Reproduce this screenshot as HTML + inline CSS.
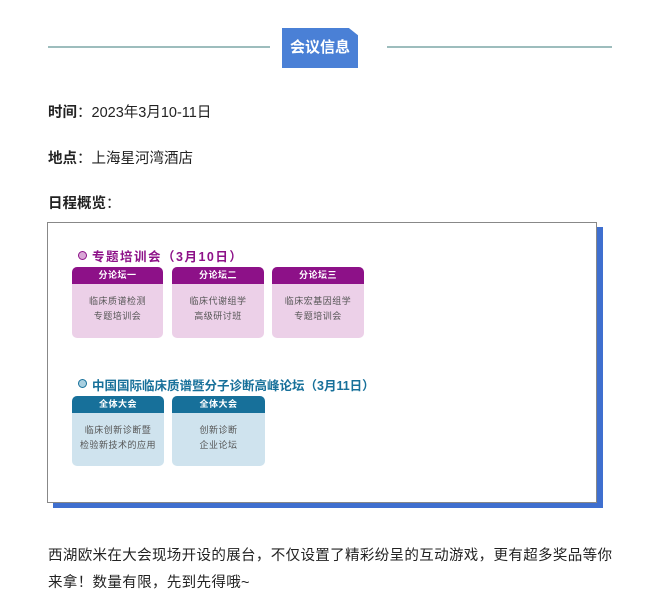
<!DOCTYPE html>
<html><head><meta charset="utf-8"><style>
body{margin:0;width:660px;height:615px;background:#fff;position:relative;font-family:"Liberation Sans","Noto Sans CJK SC",sans-serif;color:#222;overflow:hidden}
.a{position:absolute}
.line{position:absolute;height:2px;background:#9dbdbd;top:46px}
.badge{left:282px;top:28px;width:76px;height:40px;background:#4a80d6;color:#fff;font-weight:bold;font-size:15px;line-height:40px;text-align:center;clip-path:polygon(0 0,88% 0,100% 18%,100% 100%,0 100%)}
.t{font-size:14.5px;left:48px}
.t b{font-weight:bold}
.frame{left:47px;top:222px;width:548px;height:279px;border:1px solid #888;background:#fff;box-shadow:6px 5px 0 #3f6fcf}
.ttl{font-size:12.5px;font-weight:bold}
.dot{width:7px;height:7px;border-radius:50%;border:1.5px solid}
.box{border-radius:5px;overflow:hidden;text-align:center;font-size:9px;line-height:15px;letter-spacing:0.5px}
.box .h{color:#fff;font-weight:bold;height:17px;line-height:17px}
.box .b{padding-top:10px}
.p .h{background:#8d1188}.p{background:#ecd0e8;color:#555}
.q .h{background:#17709a}.q{background:#cfe3ee;color:#555}
</style></head><body>
<div class="line" style="left:48px;width:222px"></div>
<div class="line" style="left:387px;width:225px"></div>
<div class="a badge">会议信息</div>
<div class="a t" style="top:101px"><b>时间</b>：2023年3月10-11日</div>
<div class="a t" style="top:147px"><b>地点</b>：上海星河湾酒店</div>
<div class="a t" style="top:192px"><b>日程概览</b>：</div>
<div class="a frame"></div>
<div class="a dot" style="left:78px;top:251px;border-color:#8d1188;background:#d9a6d6"></div>
<div class="a ttl" style="left:92px;top:246px;color:#8d1188;letter-spacing:1.5px">专题培训会（3月10日）</div>
<div class="a box p" style="left:72px;top:267px;width:91px;height:71px"><div class="h">分论坛一</div><div class="b">临床质谱检测<br>专题培训会</div></div>
<div class="a box p" style="left:172px;top:267px;width:92px;height:71px"><div class="h">分论坛二</div><div class="b">临床代谢组学<br>高级研讨班</div></div>
<div class="a box p" style="left:272px;top:267px;width:92px;height:71px"><div class="h">分论坛三</div><div class="b">临床宏基因组学<br>专题培训会</div></div>
<div class="a dot" style="left:78px;top:379px;border-color:#17709a;background:#a8cfe0"></div>
<div class="a ttl" style="left:92px;top:375px;color:#17709a">中国国际临床质谱暨分子诊断高峰论坛（3月11日）</div>
<div class="a box q" style="left:72px;top:396px;width:92px;height:70px"><div class="h">全体大会</div><div class="b">临床创新诊断暨<br>检验新技术的应用</div></div>
<div class="a box q" style="left:172px;top:396px;width:93px;height:70px"><div class="h">全体大会</div><div class="b">创新诊断<br>企业论坛</div></div>
<div class="a" style="left:48px;top:543px;font-size:14.5px;line-height:27px;width:568px;letter-spacing:0.35px">西湖欧米在大会现场开设的展台，不仅设置了精彩纷呈的互动游戏，更有超多奖品等你来拿！数量有限，先到先得哦~</div>
</body></html>
